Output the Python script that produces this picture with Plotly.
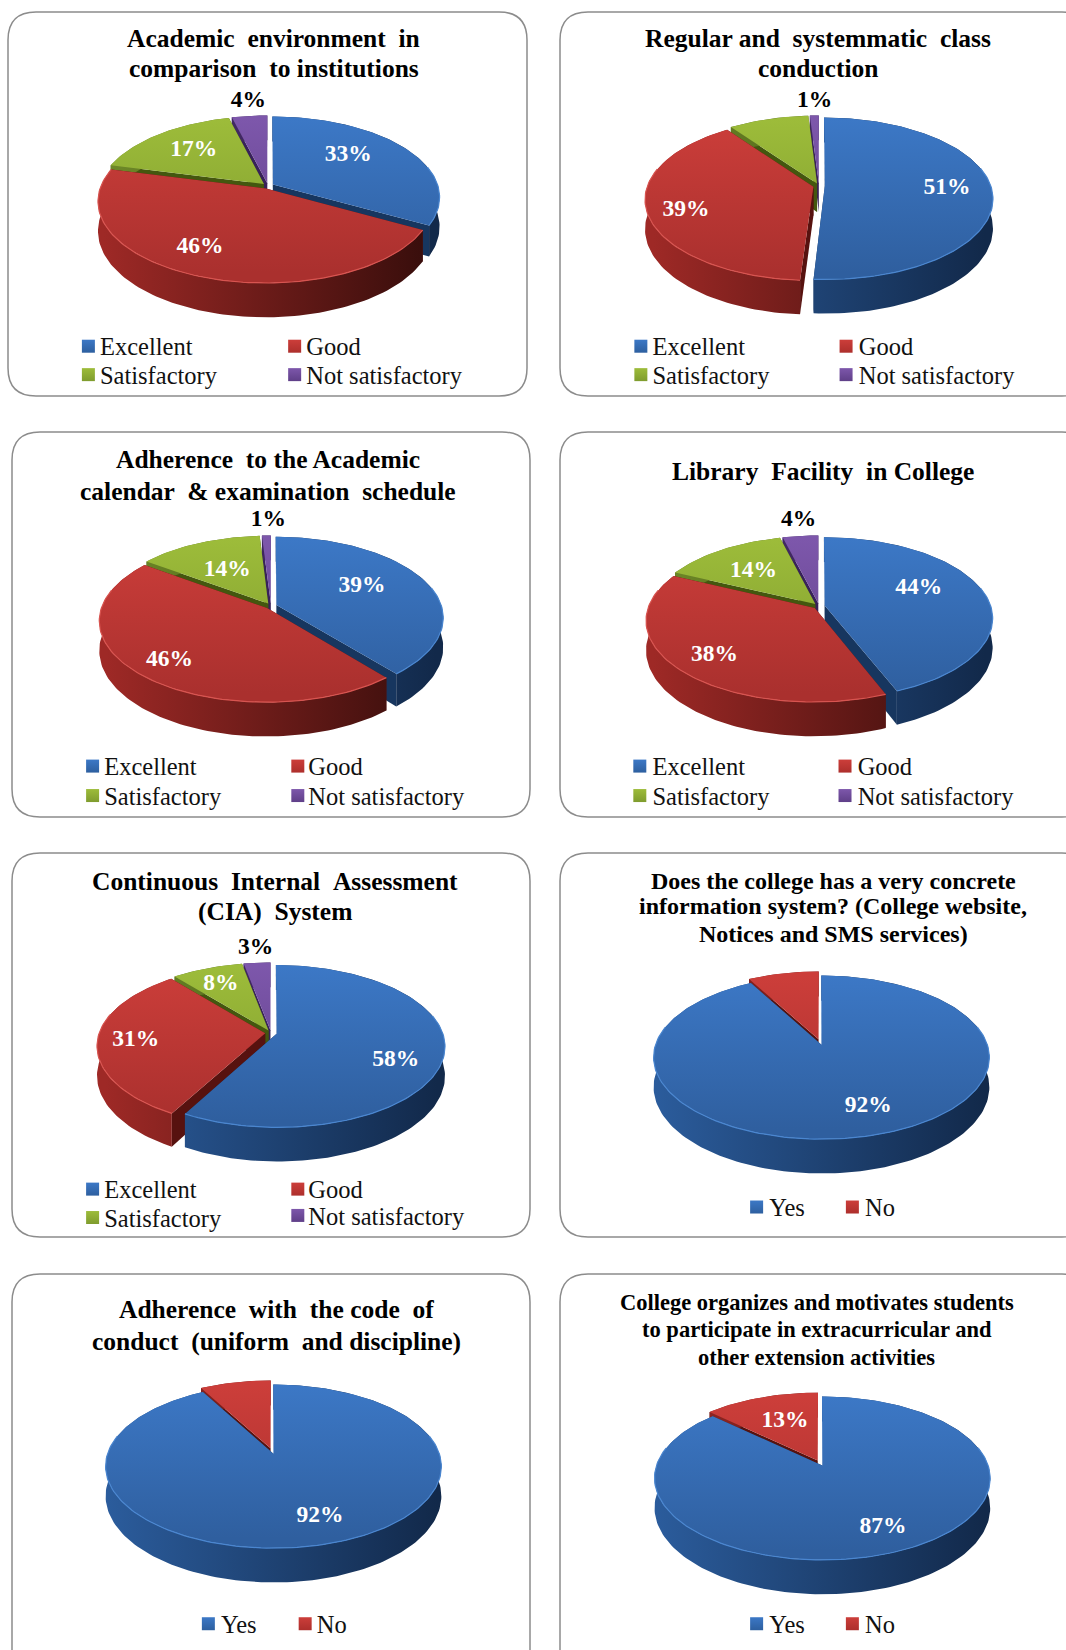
import math
import plotly.graph_objects as go

W, H = 1066, 1650
NB = "\u00a0"

# ---------- data ----------
four_cats = ["Excellent", "Good", "Satisfactory", "Not satisfactory"]
two_cats = ["Yes", "No"]

academic_environment = [33, 46, 17, 4]
class_conduction = [51, 39, 9, 1]
academic_calendar = [39, 46, 14, 1]
library_facility = [44, 38, 14, 4]
cia_system = [58, 31, 8, 3]
information_system = [92, 8]
code_of_conduct = [92, 8]
extracurricular = [87, 13]

titles = [
    [f"Academic {NB}environment {NB}in", f"comparison {NB}to institutions"],
    [f"Regular and {NB}systemmatic {NB}class", "conduction"],
    [f"Adherence {NB}to the Academic", f"calendar {NB}& examination {NB}schedule"],
    [f"Library {NB}Facility {NB}in College"],
    [f"Continuous {NB}Internal {NB}Assessment", f"(CIA) {NB}System"],
    ["Does the college has a very concrete", "information system? (College website,", "Notices and SMS services)"],
    [f"Adherence {NB}with {NB}the code {NB}of", f"conduct {NB}(uniform {NB}and discipline)"],
    ["College organizes and motivates students", "to participate in extracurricular and", "other extension activities"],
]

series = [academic_environment, class_conduction, academic_calendar, library_facility,
          cia_system, information_system, code_of_conduct, extracurricular]
categories = [four_cats] * 5 + [two_cats] * 3

# ---------- layout (page pixels) ----------
S = 1066 / 1013
boxes = [(8, 12, 527, 396), (560, 12, 1090, 396), (12, 432, 530, 817), (560, 432, 1090, 817),
         (12, 853, 530, 1237), (560, 853, 1090, 1237), (12, 1274, 530, 1680), (560, 1274, 1090, 1680)]
# pie centre x, centre y, x radius, y radius
pies = [(268, 186, 165, 79), (819, 186, 166, 79), (271, 606, 165, 79), (819, 606, 166, 79),
        (271, 1033, 166, 79), (820, 1042, 165, 79), (272, 1451, 165, 79), (820, 1463, 165, 79)]
PERSP = 0.154
DEPTH = 0.365
EXPLODE = 0.035

# title: centre x, line centres, font size (reference-shrunk coordinates)
title_pos = [(260, [37, 65], 25.5), (777, [37, 65], 25.5), (255, [437, 467], 25.5), (782, [448], 25.5),
             (261, [838, 866], 25.5), (792, [837, 861, 888], 24), (263, [1244, 1275], 25.5), (776, [1238, 1263, 1290], 22.5)]
# label centres per slice (reference-shrunk coordinates); None = no label in the source
label_pos = [
    [(331, 147), (190, 235), (184, 143), (236, 96)],
    [(900, 179), (652, 200), None, (774, 96)],
    [(344, 557), (161, 627), (216, 542), (255, 494)],
    [(873, 559), (679, 623), (716, 543), (759, 494)],
    [(376, 1007), (129, 988), (210, 935), (243, 901)],
    [(825, 1051), None],
    [(304, 1441), None],
    [(839, 1451), (746, 1350)],
]
dark_labels = {(0, 3), (1, 3), (2, 3), (3, 3), (4, 3)}
# legend entries: swatch x, text x, y (reference-shrunk coordinates)
legend_pos = [
    [(84, 95, 332), (280, 291, 332), (84, 95, 359), (280, 291, 359)],
    [(609, 620, 332), (804, 816, 332), (609, 620, 359), (804, 816, 359)],
    [(88, 99, 731), (283, 293, 731), (88, 99, 759), (283, 293, 759)],
    [(608, 620, 731), (803, 815, 731), (608, 620, 759), (803, 815, 759)],
    [(88, 99, 1133), (283, 293, 1133), (88, 99, 1160), (283, 293, 1158)],
    [(719, 731, 1150), (810, 822, 1150)],
    [(198, 210, 1546), (290, 301, 1546)],
    [(719, 731, 1546), (810, 822, 1546)],
]

# top start, top end, wall light, wall dark, cut wall, rim, swatch
palette = [
    ("#3c78c6", "#2f5f9f", "#2b5c9c", "#12294a", "#17365f", "#4a86d0", "#2d5f9f"),
    ("#cc3e3a", "#aa302e", "#9e2926", "#360d0b", "#57120f", "#d85450", "#ad2f2c"),
    ("#9dbc3a", "#7f9c2e", "#6f8a28", "#38470f", "#44570f", "#abc948", "#7f9c2e"),
    ("#7d57ab", "#5f3f88", "#4e3275", "#2d1a45", "#38215a", "#8a66b8", "#5f3f88"),
]
FONT = "Liberation Serif"


def project(u, v, ox, oy, drop=0.0):
    z = 1 + PERSP * (v + oy)
    return (u + ox) / z, (v + oy) / z - drop / z


fig = go.Figure()
annotations = []
shapes = []


def add_poly(xs, ys, axis, color=None, grad=None):
    d = dict(x=xs, y=ys, xaxis=f"x{axis}", yaxis=f"y{axis}", mode="lines", line=dict(width=0),
             fill="toself", hoverinfo="skip", showlegend=False)
    if grad:
        d["fillgradient"] = grad
        d["fillcolor"] = "rgba(0,0,0,0)"
    else:
        d["fillcolor"] = color
    fig.add_trace(go.Scatter(**d))


for i, values in enumerate(series):
    ax = i + 1
    total = sum(values)
    cum = 0
    slices = []
    for j, val in enumerate(values):
        a0 = cum / total * 2 * math.pi
        cum += val
        a1 = cum / total * 2 * math.pi
        mid = (a0 + a1) / 2
        slices.append((math.cos(mid), j, a0, a1, mid))
    slices.sort(key=lambda s: -s[0])

    for _, j, a0, a1, mid in slices:
        ox, oy = EXPLODE * math.sin(mid), EXPLODE * math.cos(mid)
        n = max(3, int((a1 - a0) / math.radians(1.5)))
        ang = [a0 + (a1 - a0) * t / n for t in range(n + 1)]
        top = [project(math.sin(a), math.cos(a), ox, oy) for a in ang]
        bot = [project(math.sin(a), math.cos(a), ox, oy, DEPTH) for a in ang]
        ctop = project(0, 0, ox, oy)
        cbot = project(0, 0, ox, oy, DEPTH)
        c = palette[j]
        # radial cut walls
        for k in (0, -1):
            add_poly([ctop[0], top[k][0], bot[k][0], cbot[0], ctop[0]],
                     [ctop[1], top[k][1], bot[k][1], cbot[1], ctop[1]], ax, color=c[4])
        # curved wall
        wall = top + bot[::-1] + [top[0]]
        add_poly([p[0] for p in wall], [p[1] for p in wall], ax,
                 grad=dict(type="horizontal", start=-1.0, stop=1.0,
                           colorscale=[[0, c[2]], [1, c[3]]]))
        # top face
        face = [ctop] + top + [ctop]
        add_poly([p[0] for p in face], [p[1] for p in face], ax,
                 grad=dict(type="vertical", start=0.85, stop=-1.1,
                           colorscale=[[0, c[0]], [1, c[1]]]))
        # light rim on the front edge
        front = [p if math.cos(a) < 0.25 else (None, None) for p, a in zip(top, ang)]
        fig.add_trace(go.Scatter(x=[p[0] for p in front], y=[p[1] for p in front],
                                 xaxis=f"x{ax}", yaxis=f"y{ax}", mode="lines",
                                 line=dict(width=1.2, color=c[5]), hoverinfo="skip", showlegend=False))

    cx, cy, rx, ry = pies[i]
    xspan, ytop, ybot = 1.3, 1.5, 2.2
    xname, yname = f"xaxis{ax}", f"yaxis{ax}"
    fig.layout[xname] = dict(domain=[(cx - xspan * rx) / W, (cx + xspan * rx) / W],
                             range=[-xspan, xspan], visible=False, fixedrange=True, anchor=f"y{ax}")
    fig.layout[yname] = dict(domain=[1 - (cy + ybot * ry) / H, 1 - (cy - ytop * ry) / H],
                             range=[-ybot, ytop], visible=False, fixedrange=True, anchor=f"x{ax}")

    # panel frame
    x0, y0, x1, y1 = boxes[i]
    r = 28
    fx = lambda x: x / W
    fy = lambda y: 1 - y / H
    path = (f"M {fx(x0 + r)} {fy(y0)} L {fx(x1 - r)} {fy(y0)} Q {fx(x1)} {fy(y0)} {fx(x1)} {fy(y0 + r)} "
            f"L {fx(x1)} {fy(y1 - r)} Q {fx(x1)} {fy(y1)} {fx(x1 - r)} {fy(y1)} "
            f"L {fx(x0 + r)} {fy(y1)} Q {fx(x0)} {fy(y1)} {fx(x0)} {fy(y1 - r)} "
            f"L {fx(x0)} {fy(y0 + r)} Q {fx(x0)} {fy(y0)} {fx(x0 + r)} {fy(y0)} Z")
    shapes.append(dict(type="path", path=path, xref="paper", yref="paper", layer="below",
                       line=dict(color="#8c8c8c", width=1.5), fillcolor="white"))

    # titles
    tx, ty, tsize = title_pos[i]
    for line, yy in zip(titles[i], ty):
        annotations.append(dict(text=f"<b>{line}</b>", x=tx * S / W, y=1 - yy * S / H, xref="paper", yref="paper",
                                xanchor="center", yanchor="middle", showarrow=False,
                                font=dict(family=FONT, size=tsize, color="black")))

    # percentage labels
    for j, pos in enumerate(label_pos[i]):
        if pos is None:
            continue
        col = "black" if (i, j) in dark_labels else "white"
        fig.add_trace(go.Scatter(x=[pos[0] * S], y=[pos[1] * S], xaxis="x9", yaxis="y9", mode="text",
                                 text=[f"<b>{values[j]}%</b>"], textposition="middle center",
                                 textfont=dict(family=FONT, size=23.5, color=col),
                                 hoverinfo="skip", showlegend=False))

    # legend keys and names
    for j, (sx, txx, yy) in enumerate(legend_pos[i]):
        c = palette[j]
        fig.add_trace(go.Scatter(x=[sx * S], y=[(yy - 3) * S], xaxis="x9", yaxis="y9", mode="markers",
                                 marker=dict(symbol="square", size=13, color=c[0],
                                             gradient=dict(type="vertical", color=c[6])),
                                 hoverinfo="skip", showlegend=False))
        fig.add_trace(go.Scatter(x=[txx * S], y=[yy * S], xaxis="x9", yaxis="y9", mode="text",
                                 text=[categories[i][j]], textposition="middle right",
                                 textfont=dict(family=FONT, size=24.5, color="#111111"),
                                 hoverinfo="skip", showlegend=False))

fig.update_layout(
    width=W, height=H, margin=dict(l=0, r=0, t=0, b=0, pad=0), autosize=False,
    paper_bgcolor="white", plot_bgcolor="rgba(0,0,0,0)", showlegend=False,
    shapes=shapes, annotations=annotations,
    xaxis9=dict(domain=[0, 1], range=[0, W], visible=False, fixedrange=True, anchor="y9"),
    yaxis9=dict(domain=[0, 1], range=[H, 0], visible=False, fixedrange=True, anchor="x9"),
)
fig.write_html("out.html", config={"displayModeBar": False},
               post_script="document.body.style.margin='0';document.body.style.overflow='hidden';")
